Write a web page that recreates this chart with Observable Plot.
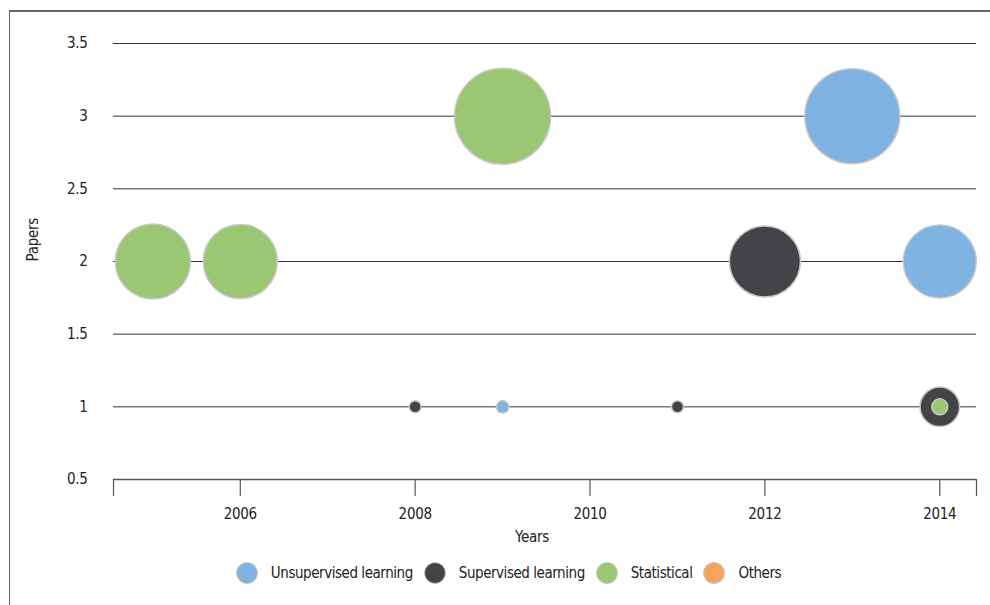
<!DOCTYPE html>
<html>
<head>
<meta charset="utf-8">
<script src="https://cdn.jsdelivr.net/npm/d3@7"></script>
<script src="https://cdn.jsdelivr.net/npm/@observablehq/plot@0.6"></script>
<style>
  html, body { margin: 0; padding: 0; background: #fff; overflow: hidden; }
  body { width: 990px; height: 605px; position: relative; font-family: 'DejaVu Sans Condensed', 'Liberation Sans Narrow', sans-serif; color: #222; }
  #frame { position: absolute; left: 9px; top: 10px; width: 1200px; height: 800px; border-top: 2px solid #666; border-left: 1.5px solid #666; pointer-events: none; }
  #legend { height: 36px; display: flex; justify-content: center; align-items: center; margin-left: 38px; font-size: 15px; letter-spacing: -0.45px; }
  .item { display: flex; align-items: center; margin-right: 11px; }
  .sw { width: 20px; height: 20px; border-radius: 50%; border: 1.5px solid #c8c8c8; margin-right: 13px; }
</style>
</head>
<body>
<div id="chart"></div>
<div id="legend"></div>
<div id="frame"></div>
<script>
const years = [2005, 2006, 2009, 2013, 2012, 2014, 2008, 2009, 2011, 2014, 2014];
const papers = [2, 2, 3, 3, 2, 2, 1, 1, 1, 1, 1];
const groups = ["Statistical", "Statistical", "Statistical", "Unsupervised learning", "Supervised learning", "Unsupervised learning", "Supervised learning", "Unsupervised learning", "Supervised learning", "Supervised learning", "Statistical"];
const bubbleSizes = [7.5, 7.4, 9.6, 9.5, 7.1, 7.3, 1.2, 1.25, 1.2, 3.95, 1.6];
const categories = ["Unsupervised learning", "Supervised learning", "Statistical", "Others"];
const colors = ["#7fb3e1", "#444348", "#9bc774", "#f5a45c"];
const yTicks = [0.5, 1, 1.5, 2, 2.5, 3, 3.5];
const xTicks = [2006, 2008, 2010, 2012, 2014];
const xDomain = [2004.55, 2014.42];

const data = years.map((yr, i) => ({year: yr, papers: papers[i], group: groups[i], size: bubbleSizes[i]}));

const chart = Plot.plot({
  width: 990,
  height: 555,
  marginLeft: 113,
  marginRight: 14,
  marginTop: 43,
  marginBottom: 76,
  style: {fontFamily: "'DejaVu Sans Condensed', 'Liberation Sans Narrow', sans-serif", fontSize: "15px", letterSpacing: "-0.3px", color: "#222", background: "transparent"},
  x: {domain: xDomain},
  y: {domain: [0.5, 3.5]},
  r: {type: "linear", domain: [0, 10], range: [0, 50]},
  color: {domain: categories, range: colors},
  marks: [
    Plot.gridY(yTicks.slice(1), {stroke: "#333", strokeOpacity: 1, strokeWidth: 1}),
    Plot.ruleY([0.5], {stroke: "#555", strokeWidth: 1.5}),
    Plot.axisY(yTicks, {tickSize: 0, tickPadding: 26, tickFormat: d => String(d), label: null, fill: "#222"}),
    Plot.axisX([...xTicks, ...xDomain], {tickSize: 17, stroke: "#555", strokeWidth: 1.2, tickPadding: 12, tickFormat: d => xTicks.includes(d) ? String(d) : "", label: null, fill: "#222"}),
    Plot.text(["Years"], {frameAnchor: "bottom", dy: 62, dx: -13, fill: "#222"}),
    Plot.text(["Papers"], {frameAnchor: "left", dx: -80, rotate: -90, fill: "#222"}),
    Plot.dot(data, {x: "year", y: "papers", r: "size", fill: "group", stroke: "#c8c8c8", strokeWidth: 1.5})
  ]
});
document.getElementById("chart").appendChild(chart);

const legend = document.getElementById("legend");
categories.forEach((c, i) => {
  const item = document.createElement("div");
  item.className = "item";
  const sw = document.createElement("span");
  sw.className = "sw";
  sw.style.background = colors[i];
  const lab = document.createElement("span");
  lab.textContent = c;
  item.appendChild(sw);
  item.appendChild(lab);
  legend.appendChild(item);
});
</script>
</body>
</html>
